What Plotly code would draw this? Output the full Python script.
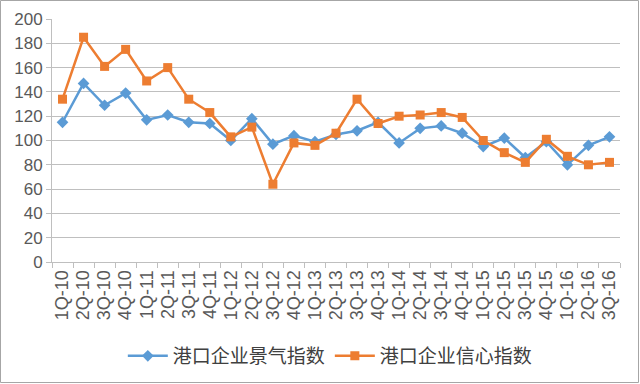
import plotly.graph_objects as go

categories = ["1Q-10","2Q-10","3Q-10","4Q-10","1Q-11","2Q-11","3Q-11","4Q-11","1Q-12","2Q-12",
              "3Q-12","4Q-12","1Q-13","2Q-13","3Q-13","4Q-13","1Q-14","2Q-14","3Q-14","4Q-14",
              "1Q-15","2Q-15","3Q-15","4Q-15","1Q-16","2Q-16","3Q-16"]
prosperity = [115,147,129,139,117,121,115,114,100,118,
              97,104,99,105,108,115,98,110,112,106,
              95,102,86,99,80,96,103]
confidence = [134,185,161,175,149,160,134,123,103,111,
              64,98,96,106,134,114,120,121,123,119,
              100,90,82,101,87,80,82]
name_a = "港口企业景气指数"
name_b = "港口企业信心指数"

blue = "#5B9BD5"
orange = "#ED7D31"
font_family = "Liberation Sans, Arial, Noto Sans CJK SC"

fig = go.Figure()
fig.add_trace(go.Scatter(x=categories, y=prosperity, name=name_a, mode="lines+markers",
                         line=dict(color=blue, width=2.5),
                         marker=dict(symbol="diamond", size=9, color=blue)))
fig.add_trace(go.Scatter(x=categories, y=confidence, name=name_b, mode="lines+markers",
                         line=dict(color=orange, width=2.5),
                         marker=dict(symbol="square", size=9, color=orange)))

L, R, T, B = 52, 20, 19, 122
W, H = 640, 384
pw, ph = W - L - R, H - T - B

fig.update_layout(
    width=W, height=H,
    margin=dict(l=L, r=R, t=T, b=B, autoexpand=False),
    paper_bgcolor="white", plot_bgcolor="white",
    font=dict(family=font_family, color="#595959"),
    showlegend=True,
    legend=dict(orientation="h", x=0.49, xanchor="center", y=(262 - 356) / ph, yanchor="middle",
                font=dict(size=19, family="Noto Sans CJK SC", color="#404040"),
                itemwidth=40, tracegroupgap=0, bgcolor="rgba(0,0,0,0)"),
    xaxis=dict(type="category", range=[-0.5, 26.5], showgrid=False, automargin=False,
               tickmode="array", tickvals=categories, ticktext=categories,
               showline=True, linecolor="#BFBFBF", linewidth=1,
               ticks="outside", tickson="boundaries", ticklen=5, tickcolor="#BFBFBF",
               tickangle=-90, tickfont=dict(size=18, color="#595959")),
    yaxis=dict(range=[0, 200], dtick=20, showgrid=True, gridcolor="#BFBFBF", gridwidth=1,
               showline=True, linecolor="#BFBFBF", linewidth=1, automargin=False,
               ticks="outside", ticklen=5, tickcolor="#BFBFBF",
               zeroline=False,
               tickfont=dict(size=17, color="#595959")),
    shapes=[dict(type="rect", xref="paper", yref="paper",
                 x0=(-L + 0.5) / pw, x1=1 + (R - 1.5) / pw,
                 y0=-(B - 1.5) / ph, y1=1 + (T - 0.5) / ph,
                 line=dict(color="#A6A6A6", width=1), fillcolor="rgba(0,0,0,0)")],
)

fig.write_html("out.html", config={"displayModeBar": False},
               post_script="document.body.style.margin='0';document.body.style.overflow='hidden';")
